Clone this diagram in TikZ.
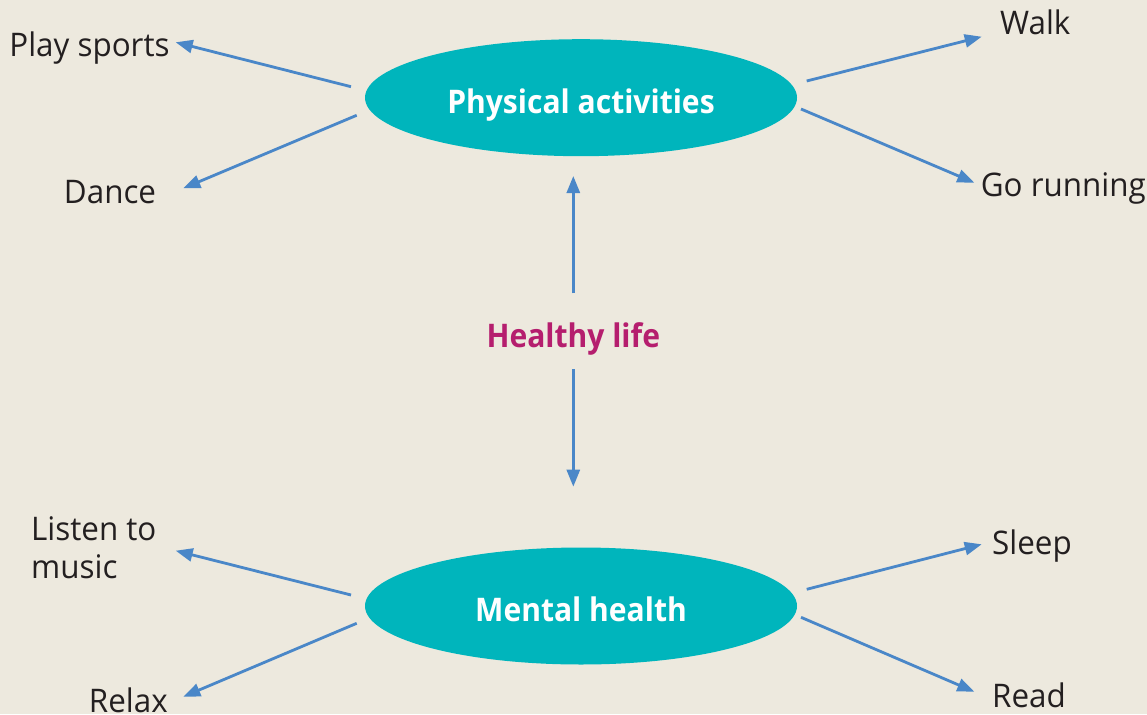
\documentclass[tikz,border=0pt]{standalone}
\usepackage{fontspec}
\setmainfont{Open Sans}[FakeStretch=0.965,BoldFeatures={FakeStretch=0.925}]
\usetikzlibrary{arrows.meta,shapes.geometric,calc}
\definecolor{bgc}{RGB}{237,233,222}
\definecolor{tealc}{RGB}{0,181,188}
\definecolor{arrc}{RGB}{74,135,200}
\definecolor{magc}{RGB}{181,30,110}
\definecolor{txtc}{RGB}{35,31,32}
\tikzset{
  lbl/.style={inner sep=0pt,anchor=base,text=txtc,font=\fontsize{32.5}{38.3}\selectfont},
  hub/.style={ellipse,fill=tealc,inner sep=0pt,minimum width=432pt,minimum height=117pt,
    text=white,font=\fontsize{32.5}{38.3}\selectfont\bfseries,text height=31.2pt,text depth=0pt},
  arr/.style={draw=arrc,line width=2.8pt,-{Triangle[length=17pt,width=13pt]}}
}
\begin{document}
\begin{tikzpicture}[x=1pt,y=-1pt]
\fill[bgc] (0,0) rectangle (1147,714);
\useasboundingbox (0,0) rectangle (1147,714);
\node[hub] (pa) at (581,97.7) {Physical activities};
\node[hub] (mh) at (581,606) {Mental health};
\node[lbl,text=magc,font=\fontsize{32.5}{38.3}\selectfont\bfseries] (hl) at (573.3,347.3) {Healthy life};
\node[lbl] (ps) at (89.5,56.7) {Play sports};
\node[lbl] (dn) at (110,204) {Dance};
\node[lbl] (wk) at (1035.3,35) {Walk};
\node[lbl] (gr) at (1063.3,196) {Go running};
\node[lbl,anchor=base west,align=left] (lm) at (31,578.3) {Listen to\\music};
\node[lbl] (rx) at (128.3,712) {Relax};
\node[lbl] (sl) at (1032,554) {Sleep};
\node[lbl] (rd) at (1029,707.3) {Read};
\draw[arr] ($(pa.center)+(-230,-11)$) -- ($(ps.base)+(86.2,-14.4)$);
\draw[arr] ($(pa.center)+(-224.3,17.6)$) -- ($(dn.base)+(73.3,-15.7)$);
\draw[arr] ($(pa.center)+(225.7,-16.7)$) -- ($(wk.base)+(-53.6,1.7)$);
\draw[arr] ($(pa.center)+(220,11.3)$) -- ($(gr.base)+(-89,-13.3)$);
\draw[arr] ($(hl.base)+(0,-54)$) -- ($(hl.base)+(0,-171.3)$);
\draw[arr] ($(hl.base)+(0,22)$) -- ($(hl.base)+(0,139.4)$);
\draw[arr] ($(mh.center)+(-230,-11)$) -- ($(lm.base west)+(144.7,-27.6)$);
\draw[arr] ($(mh.center)+(-224.3,17.3)$) -- ($(rx.base)+(55,-15.3)$);
\draw[arr] ($(mh.center)+(225.7,-16.7)$) -- ($(sl.base)+(-50.3,-9.7)$);
\draw[arr] ($(mh.center)+(220,11.3)$) -- ($(rd.base)+(-54.7,-15.6)$);
\end{tikzpicture}
\end{document}
